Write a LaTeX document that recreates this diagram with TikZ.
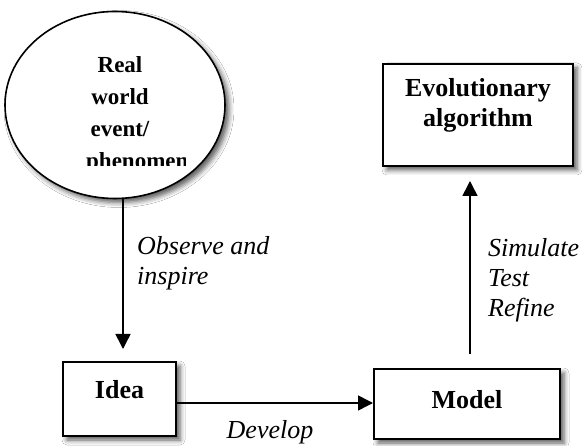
\documentclass[tikz,border=0pt]{standalone}
\usepackage{fontspec}
\setmainfont{Liberation Serif}
\usetikzlibrary{shadows.blur, arrows.meta, shapes.geometric}
\begin{document}
\begin{tikzpicture}[x=1pt,y=-1pt]
\tikzset{
 boxnode/.style={draw, line width=2pt, fill=white, rectangle, inner sep=0pt,
   blur shadow={shadow xshift=4pt, shadow yshift=-4pt, shadow blur radius=5pt, shadow opacity=65}},
 boldtxt/.style={font=\fontsize{26}{30}\selectfont\bfseries, align=center, inner sep=0pt},
 ellitxt/.style={font=\fontsize{23}{32}\selectfont\bfseries, align=center, inner sep=0pt},
 labeltxt/.style={font=\fontsize{26}{30}\selectfont\itshape, align=left, inner sep=0pt},
 arr/.style={line width=1.5pt, -{Triangle[length=15pt,width=15pt]}},
}
\useasboundingbox (0,0) rectangle (582,446);
\fill[white] (0,0) rectangle (582,446);

\node[boxnode, ellipse, line width=1.6pt, minimum width=220pt, minimum height=187pt] (real) at (115,105) {};
\node[ellitxt] (realtxt) at (120,97) {Real\\world\\event/};
\begin{scope}
\clip (60,40) rectangle (185.5,166);
\node[ellitxt, anchor=base west] (phen) at (86,169) {phenomenon};
\end{scope}

\node[boxnode, minimum width=113pt, minimum height=74pt,
  label={[boldtxt, yshift=9pt, name=ideatxt]center:Idea}] (idea) at (119.5,399) {};
\node[boxnode, minimum width=186pt, minimum height=70pt,
  label={[boldtxt, yshift=4pt, name=modeltxt]center:Model}] (model) at (467,404) {};
\node[boxnode, minimum width=190pt, minimum height=102pt,
  label={[boldtxt, yshift=10pt, name=evotxt]center:Evolutionary\\algorithm}] (evo) at (478,115) {};

\coordinate (ax) at (123,0);
\coordinate (dy) at (0,403);
\coordinate (mx) at (470,0);
\draw[arr, shorten >=12pt] (ax |- real.south) -- (ax |- idea.north);
\draw[arr] (idea.east |- dy) -- (model.west |- dy);
\draw[arr, shorten <=14pt, shorten >=14pt] (mx |- model.north) -- (mx |- evo.south);

\node[labeltxt, anchor=west] (obs) at (137,263) {Observe and\\inspire};
\node[labeltxt] (dev) at (270,432) {Develop};
\node[labeltxt, anchor=west] (sim) at (488,280) {Simulate\\Test\\Refine};
\end{tikzpicture}
\end{document}
